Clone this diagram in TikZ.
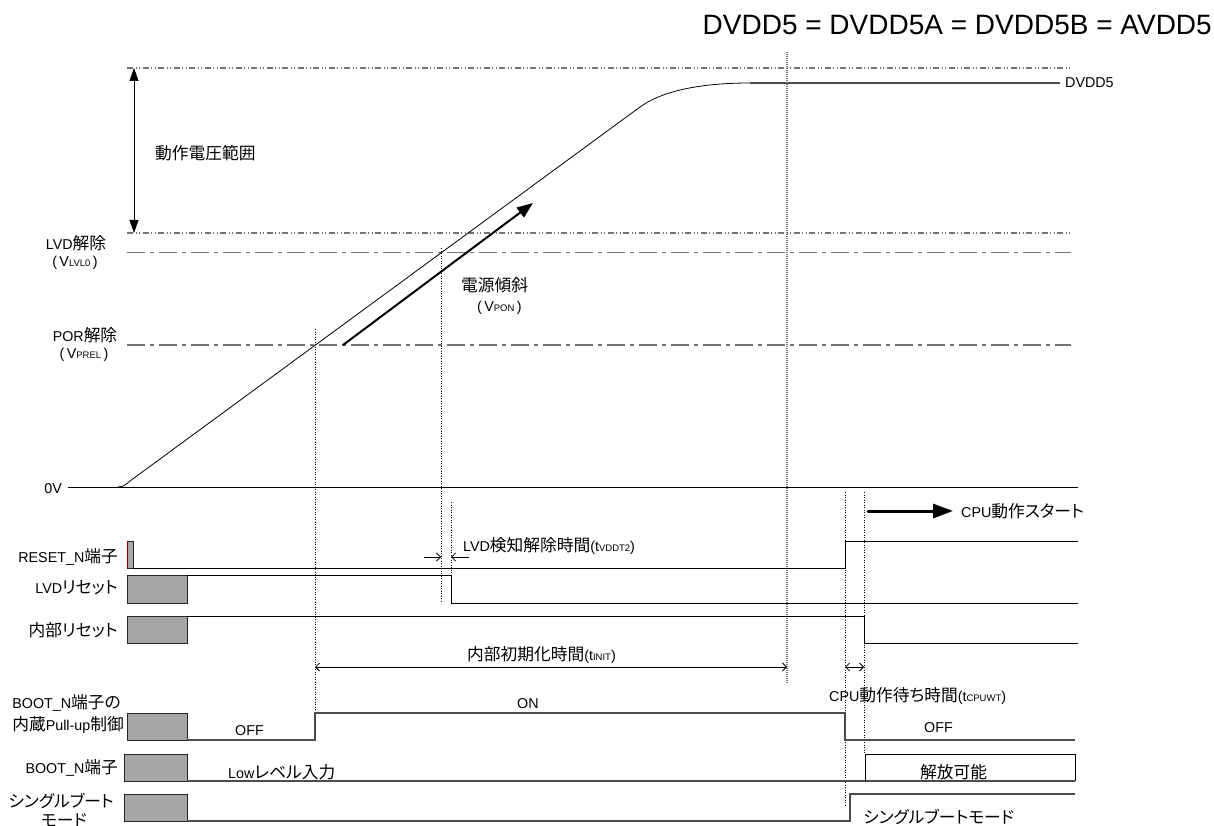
\documentclass[tikz,border=0pt]{standalone}
\usepackage{fontspec}
\setmainfont{Liberation Sans}
\newfontfamily\jp{Noto Sans CJK JP}[Scale=1.17, RawFeature={+palt}]
\usetikzlibrary{arrows.meta}
\newcommand{\sbs}[1]{{\fontsize{9.5}{9.5}\selectfont #1}}
\begin{document}
\begin{tikzpicture}[x=1pt,y=-1pt,
  lbl/.style={font=\fontsize{14.3}{16}\selectfont, inner sep=0pt},
  sig/.style={line width=0.9pt, black},
  gsig/.style={line width=1.2pt, black!70},
  thr/.style={line width=1.1pt, black!55},
  ddot/.style={thr, dash pattern=on 6pt off 2.5pt on 1pt off 2.5pt on 1pt off 2.5pt},
  ldash/.style={thr, dash pattern=on 18pt off 5pt on 4pt off 5pt},
  vdot/.style={line width=0.7pt, black, dash pattern=on 1pt off 1.5pt},
  gvdot/.style={line width=1.1pt, black!55, dash pattern=on 1pt off 1pt},
  gbox/.style={draw=black!85, fill=black!35, line width=0.9pt},
  dimarr/.style={line width=0.8pt, {Straight Barb[length=4pt,width=8pt]}-{Straight Barb[length=4pt,width=8pt]}},
  barb/.style={line width=0.8pt, -{Straight Barb[length=4pt,width=8pt]}}
]
\useasboundingbox (0,0) rectangle (1214,826);

% title
\node[inner sep=0pt, anchor=east, font=\fontsize{28}{30}\selectfont] (title) at (1212,25) {DVDD5 = DVDD5A = DVDD5B = AVDD5};

% threshold lines
\draw[ddot] (127,68) -- (1072,68);
\draw[ddot] (127,233) -- (1072,233);
\draw[ldash] (127,252.5) -- (1071,252.5);
\draw[ldash] (127,345) -- (1071,345);
\draw[sig] (68,487) -- (1078,487);

% operating range arrow
\draw[line width=0.8pt, {Triangle[length=13pt,width=9pt]}-{Triangle[length=13pt,width=9pt]}] (134,68) -- (134,233);
\node[lbl, anchor=west] (range) at (155,153) {\jp 動作電圧範囲};

% left labels
\node[lbl] (lvdl) at (76,243) {LVD{\jp 解除}};
\node[lbl] (lvdv) at (75,263) {(\,V\sbs{LVL0}\,)};
\node[lbl] (porl) at (85,335) {POR{\jp 解除}};
\node[lbl] (porv) at (84,355) {(\,V\sbs{PREL}\,)};
\node[lbl, anchor=east] (zero) at (62,489) {0V};

% DVDD5 curve
\draw[line width=0.8pt] (118,487) .. controls (124,487) and (126,484) .. (130,481) -- (640,107) .. controls (662,91) and (700,83) .. (750,83);
\draw[gsig] (750,83) -- (1060,83);
\node[lbl, anchor=west] (dvdd) at (1065,83) {DVDD5};

% slope arrow
\draw[line width=2pt, -{Triangle[length=16pt,width=12pt]}] (343,345) -- (533,203);
\node[lbl, anchor=west] (slope) at (461,285) {\jp 電源傾斜};
\node[lbl, anchor=west] (vpon) at (477,308) {(\,V\sbs{PON}\,)};

% vertical dotted lines
\draw[vdot] (315,329) -- (315,713);
\draw[vdot] (441,248) -- (441,603);
\draw[vdot] (451,502) -- (451,575);
\draw[gvdot] (787,52) -- (787,683);
\draw[vdot] (845,492) -- (845,806);
\draw[vdot] (864,492) -- (864,754);

% signal labels
\node[lbl, anchor=east] (rstl) at (118,557) {RESET\_N{\jp 端子}};
\node[lbl, anchor=east] (lvdrl) at (118,588) {LVD{\jp リセット}};
\node[lbl, anchor=east] (intl) at (118,630) {\jp 内部リセット};
\node[lbl, anchor=east] (pu1) at (121,703) {BOOT\_N{\jp 端子の}};
\node[lbl, anchor=east] (pu2) at (124,725) {{\jp 内蔵}Pull-up{\jp 制御}};
\node[lbl, anchor=east] (bootl) at (118,768) {BOOT\_N{\jp 端子}};
\node[lbl, anchor=east] (sb1) at (114,801) {\jp シングルブート};
\node[lbl] (sb2) at (64,820) {\jp モード};

% RESET_N
\draw[gbox] (127,541) rectangle (133,568);
\draw[red!55!black, line width=1pt] (127,541) -- (127,568);
\draw[sig] (133,568) -- (845,568) -- (845,541) -- (1078,541);

% LVD reset
\draw[gbox] (127,575) rectangle (187,603);
\draw[sig] (187,575) -- (451,575) -- (451,603) -- (1078,603);

% internal reset
\draw[gbox] (127,616) rectangle (187,643);
\draw[sig] (187,616) -- (864,616) -- (864,643) -- (1078,643);

% pull-up control
\draw[gbox] (127,713) rectangle (187,740);
\draw[gsig] (187,740) -- (315,740) -- (315,713) -- (845,713) -- (845,740) -- (1075,740);

% BOOT_N
\draw[gbox] (124,754) rectangle (187,781);
\draw[gsig] (187,781) -- (1075,781);
\draw[sig] (865,781) -- (865,754) -- (1075,754) -- (1075,781);

% single boot
\draw[gbox] (124,794) rectangle (187,821);
\draw[gsig] (187,821) -- (850,821) -- (850,794) -- (1075,794);

% timing dimensions
\draw[barb] (424,557) -- (441,557);
\draw[barb] (469,557) -- (451,557);
\node[lbl, anchor=west] (tvddt) at (463,546) {LVD{\jp 検知解除時間}(t\sbs{VDDT2})};
\draw[dimarr] (315,667) -- (787,667);
\node[lbl, anchor=west] (tinit) at (467,655) {{\jp 内部初期化時間}(t\sbs{INIT})};
\draw[dimarr] (845,667) -- (864,667);
\node[lbl, anchor=west] (tcpu) at (829,696) {CPU{\jp 動作待ち時間}(t\sbs{CPUWT})};

% CPU start arrow
\draw[line width=3pt, line cap=round, -{Triangle[length=20pt,width=14pt]}] (868,511) -- (953,511);
\node[lbl, anchor=west] (cpust) at (961,511) {CPU{\jp 動作スタート}};

% state labels
\node[lbl, anchor=west] (off1) at (235,731) {OFF};
\node[lbl, anchor=west] (on1) at (517,704) {ON};
\node[lbl, anchor=west] (off2) at (924,728) {OFF};
\node[lbl, anchor=west] (low) at (228,772) {Low{\jp レベル入力}};
\node[lbl, anchor=west] (rel) at (920,772) {\jp 解放可能};
\node[lbl, anchor=west] (sbm) at (863,817) {\jp シングルブートモード};
\end{tikzpicture}
\end{document}
